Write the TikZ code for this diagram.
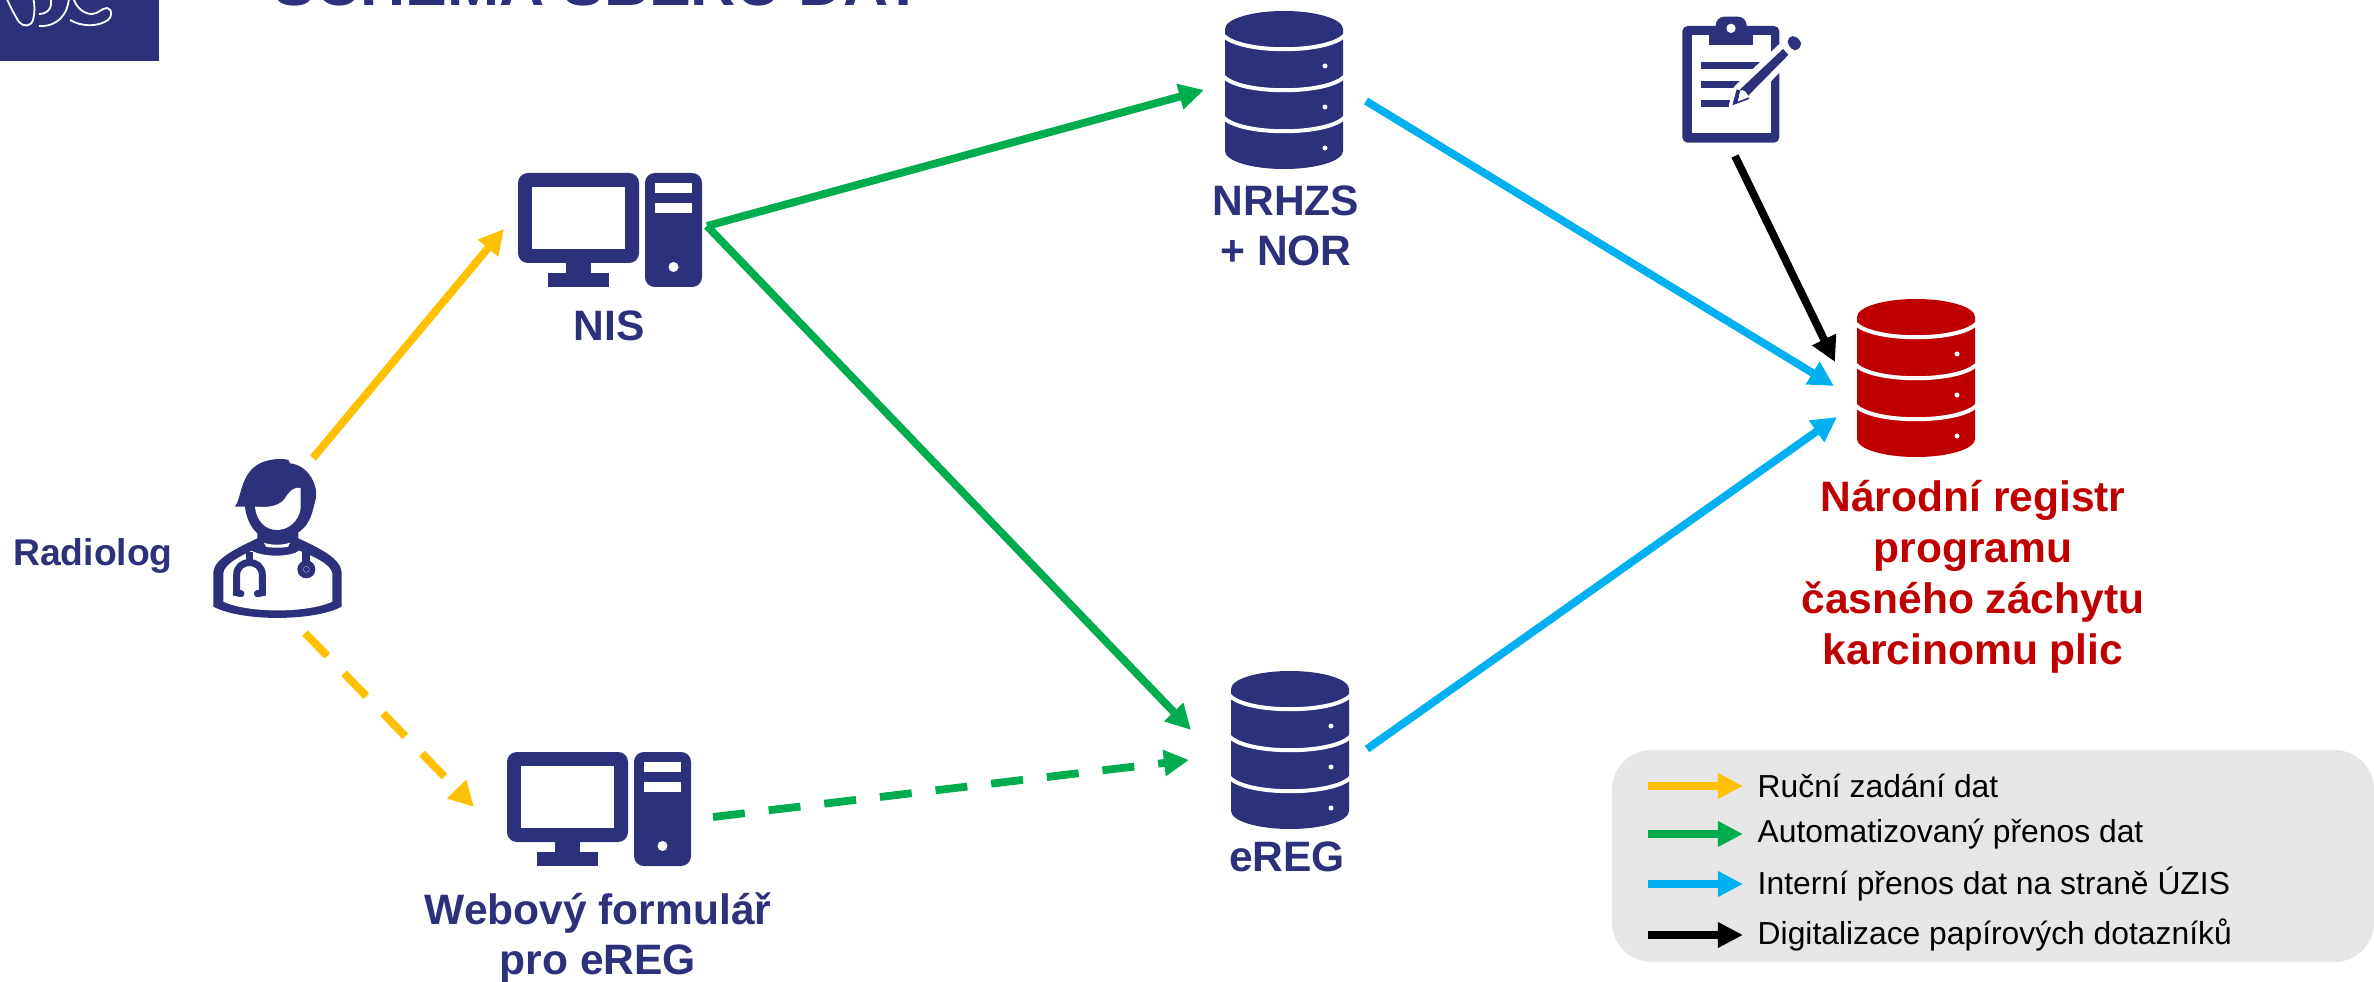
\documentclass[tikz,border=0pt]{standalone}
\usepackage{fontspec}
\setmainfont{Liberation Sans}
\usetikzlibrary{arrows.meta,positioning}

\definecolor{navy}{HTML}{2D307B}
\definecolor{regred}{HTML}{C00000}
\definecolor{manualcol}{HTML}{FFC000}
\definecolor{autocol}{HTML}{00AD4E}
\definecolor{internalcol}{HTML}{00B0F0}
\definecolor{legendgrey}{HTML}{E6E6E6}

\tikzset{
	flow/.style={line width=0.078cm, -{Triangle[length=0.25cm,width=0.25cm]}},
	flowdash/.style={flow, dash pattern=on 0.32cm off 0.24cm},
	keyflow/.style={line width=0.07cm, -{Triangle[length=0.25cm,width=0.24cm]}},
	caption/.style={font=\fontsize{12.1pt}{14.3pt}\selectfont\bfseries, text=navy, inner sep=0pt, align=center},
	regcaption/.style={caption, font=\fontsize{12.1pt}{14.5pt}\selectfont\bfseries, text=regred},
	keytext/.style={font=\fontsize{9.05pt}{11pt}\selectfont, text=black, inner sep=0pt, anchor=west},
	pics/dbicon/.style={code={
		\fill[#1] (0,18) arc[x radius=59, y radius=18, start angle=180, end angle=360]
			-- (118,140) arc[x radius=59, y radius=18, start angle=0, end angle=180] -- cycle;
		\foreach \ytop in {24,65,106} {
			\draw[white, line width=0.04cm] (-2,\ytop) .. controls (15,\ytop+19) and (103,\ytop+19) .. (120,\ytop);
			\fill[white] (100,\ytop+31) circle (2.5);
		}
	}},
	pics/pcicon/.style={code={
		\fill[navy, rounded corners=2.8pt] (0,0) rectangle (121,90);
		\fill[white] (14,14) rectangle (107,76);
		\fill[navy] (48,90) rectangle (73,104);
		\fill[navy] (30,100) rectangle (91,114);
		\fill[navy, rounded corners=2.8pt] (127,0) rectangle (184,114);
		\fill[white] (137,10) rectangle (174,20);
		\fill[white] (137,30) rectangle (174,40);
		\fill[white] (155.5,94) circle (5);
	}},
}

\begin{document}
\begin{tikzpicture}[x=0.01cm, y=-0.01cm]
	\useasboundingbox (0,0) rectangle (2374,982);

	% logo and heading
	\fill[navy] (0,0) rectangle (159,61);
	\draw[white, line width=0.018cm] (6,-3) .. controls (10,6) and (15,16) .. (19,22) .. controls (23,27) and (31,27) .. (33,20) .. controls (35,12) and (35,5) .. (33,-3);
	\draw[white, line width=0.018cm] (39,14) .. controls (47,14) and (54,8) .. (50,-3);
	\draw[white, line width=0.018cm] (39,26) .. controls (56,27) and (68,16) .. (69,-3);
	\draw[white, line width=0.018cm] (73,-3) .. controls (76,8) and (84,14) .. (92,14) .. controls (98,14) and (102,8) .. (107,8) .. controls (113,9) and (112,17) .. (108,20) .. controls (98,27) and (82,27) .. (70,20);
	\node (heading) [anchor=base west, inner sep=0pt, font=\fontsize{17.8pt}{20pt}\selectfont\bfseries, text=navy] at (273,6) {SCHÉMA SBĚRU DAT};

	% doctor
	\begin{scope}[shift={(180,430)}, x=0.01cm/3, y=-0.01cm/3]
		\fill[navy] (100,530) -- (100,425) .. controls (105,385) and (170,355) .. (232,325) -- (232,300) -- (355,300) -- (355,325)
			.. controls (420,355) and (480,385) .. (485,425) -- (485,530) .. controls (400,575) and (185,575) .. (100,530) -- cycle;
		\fill[white] (130,515) -- (130,430) .. controls (135,400) and (180,380) .. (215,362) .. controls (250,382) and (330,382) .. (358,362)
			.. controls (400,380) and (450,400) .. (457,430) -- (457,515) .. controls (380,550) and (205,550) .. (130,515) -- cycle;
		\fill[white] (252,338) .. controls (270,346) and (310,346) .. (330,338) -- (325,350) .. controls (310,354) and (270,354) .. (258,350) -- cycle;
		\fill[navy] (165,230) .. controls (185,205) and (180,130) .. (240,100) .. controls (270,85) and (310,85) .. (325,90) -- (330,100)
			.. controls (385,105) and (420,170) .. (405,215) .. controls (395,260) and (385,290) .. (350,310) .. controls (320,330) and (260,330) .. (232,310)
			.. controls (210,290) and (198,260) .. (195,230) -- cycle;
		\fill[white] (225,230) .. controls (260,232) and (295,232) .. (315,205) .. controls (330,180) and (345,170) .. (362,174)
			-- (362,235) .. controls (355,280) and (320,300) .. (290,300) .. controls (255,300) and (228,270) .. (225,230) -- cycle;
		\draw[navy, line width=0.07cm] (208,365) -- (208,400);
		\draw[navy, line width=0.07cm, line cap=round] (183,491) -- (170,488) -- (170,435) .. controls (170,385) and (247,385) .. (247,435) -- (247,488) -- (232,491);
		\draw[navy, line width=0.07cm] (378,365) -- (378,400);
		\fill[navy] (379,418) circle (27);
		\draw[white!60!navy, line width=0.004cm] (379,418) circle (9);
	\end{scope}

	% clipboard
	\begin{scope}[shift={(1640,0)}, x=0.01cm/3, y=-0.01cm/3]
		\fill[navy, rounded corners=1.5pt] (127,78) rectangle (418,428);
		\fill[white] (155,105) rectangle (392,400);
		\fill[navy, rounded corners=2.5pt] (227,50) rectangle (320,110);
		\fill[navy] (207,100) rectangle (340,135);
		\fill[white] (273,85) circle (14);
		\fill[navy] (183,187) rectangle (360,206);
		\fill[navy] (183,244) rectangle (310,263);
		\fill[navy] (183,301) rectangle (280,320);
		\draw[white, line width=0.06cm, line join=round, fill=navy] (290,265) -- (430,133) -- (458,165) -- (328,297) -- (275,318) -- cycle;
		\fill[white] (300,272) .. controls (310,266) and (322,278) .. (326,292) -- (293,305) -- cycle;
		\fill[navy] (277,316) -- (290,268) -- (300,272) -- (293,305) -- (326,292) -- (328,297) -- cycle;
		\fill[white] (425,118) -- (458,90) -- (502,130) -- (470,170) -- cycle;
		\fill[navy, rounded corners=1.5pt] (437,125) -- (458,102) -- (490,130) -- (465,158) -- cycle;
	\end{scope}

	% icons
	\pic at (518,173) {pcicon};
	\pic at (507,752) {pcicon};
	\pic at (1225,11) {dbicon=navy};
	\pic at (1231,671) {dbicon=navy};
	\pic at (1857,299) {dbicon=regred};

	% texts
	\node (radiolog) [caption, font=\fontsize{10.6pt}{13pt}\selectfont\bfseries] at (93,556) {Radiolog};
	\node (nis) [caption] at (609,326) {NIS};
	\node (web) [caption] at (598,938) {Webový formulář\\pro eREG};
	\node (nrhzs) [caption] at (1286,226) {NRHZS\\+ NOR};
	\node (ereg) [caption] at (1287,857) {eREG};
	\node (registr) [regcaption] at (1973,577) {Národní registr\\programu\\časného záchytu\\karcinomu plic};

	% ends of the flows
	\coordinate (docUp) at (313,458);
	\coordinate (docDown) at (305,633);
	\coordinate (nisIn) at (504,229);
	\coordinate (nisOut) at (707,226);
	\coordinate (webIn) at (474,807);
	\coordinate (webOut) at (713,817);
	\coordinate (nrhzsIn) at (1204,90);
	\coordinate (nrhzsOut) at (1366,101);
	\coordinate (eregTop) at (1191,730);
	\coordinate (eregIn) at (1189,760);
	\coordinate (eregOut) at (1367,749);
	\coordinate (clipOut) at (1735,156);
	\coordinate (regBlack) at (1835,362);
	\coordinate (regTop) at (1834,386);
	\coordinate (regLow) at (1837,417);

	\draw[flow, manualcol] (docUp) -- (nisIn);
	\draw[flowdash, manualcol] (docDown) -- (webIn);
	\draw[flow, autocol] (nisOut) -- (nrhzsIn);
	\draw[flow, autocol] (nisOut) -- (eregTop);
	\draw[flowdash, autocol] (webOut) -- (eregIn);
	\draw[flow, internalcol] (nrhzsOut) -- (regTop);
	\draw[flow, internalcol] (eregOut) -- (regLow);
	\draw[flow, black] (clipOut) -- (regBlack);

	% legend
	\node (legend) [fill=legendgrey, rounded corners=0.4cm, minimum width=7.62cm, minimum height=2.12cm, inner sep=0pt] at (1993,856) {};
	\foreach \name/\col/\ypos/\txt in {
		a/manualcol/786/Ruční zadání dat,
		b/autocol/834/Automatizovaný přenos dat,
		c/internalcol/884/Interní přenos dat na straně ÚZIS,
		d/black/935/Digitalizace papírových dotazníků} {
		\coordinate (key\name) at (1648,\ypos);
		\node (txt\name) [keytext] at (1757,\ypos) {\txt};
		\draw[keyflow, \col] (key\name) -- ++(95,0);
	}
\end{tikzpicture}
\end{document}
